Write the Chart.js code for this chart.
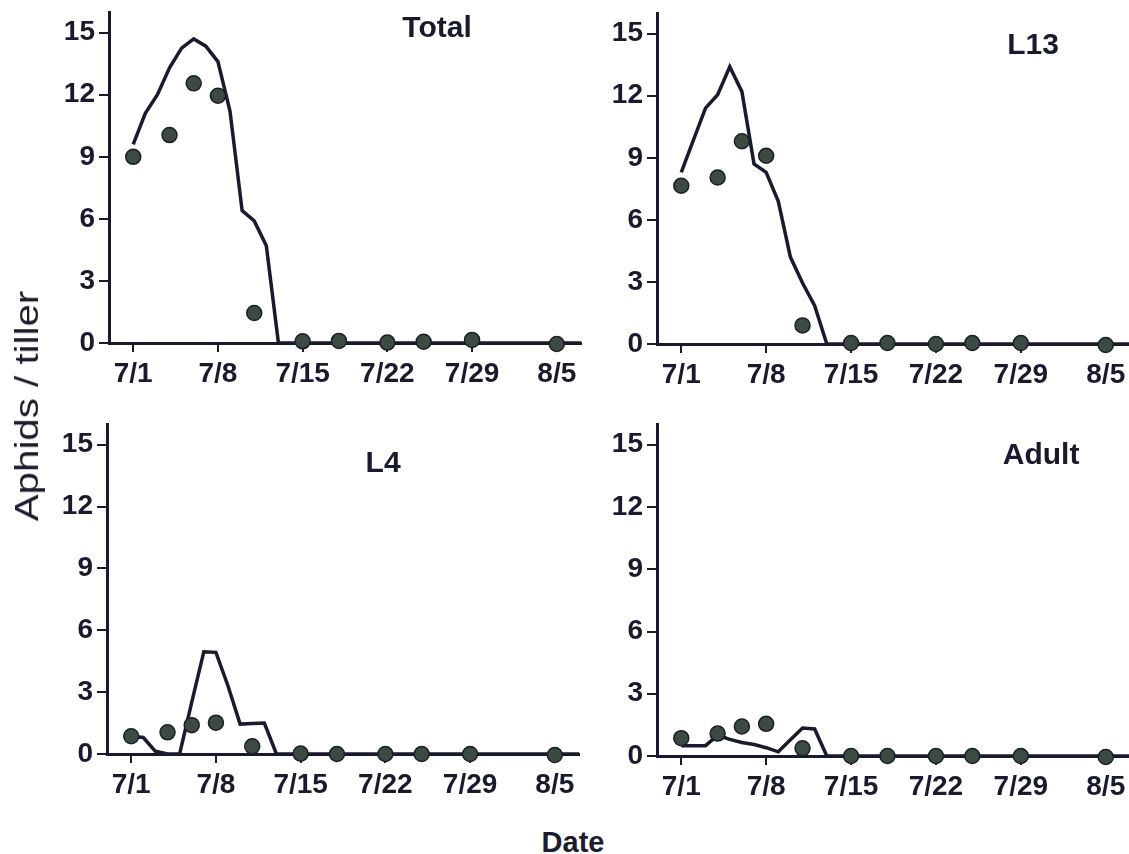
<!DOCTYPE html>
<html>
<head>
<meta charset="utf-8">
<title>Aphids per tiller</title>
<script src="https://cdn.jsdelivr.net/npm/chart.js@4.4.0/dist/chart.umd.min.js"></script>
<style>
    body { margin: 0; background: #fff; overflow: hidden; }
    #page { position: relative; width: 1129px; height: 854px; overflow: hidden; background: #fff; }
    .panel { position: absolute; }
    #ylabel {
        position: absolute; left: 27px; top: 406px;
        transform: translate(-50%, -50%) rotate(-90deg) scaleX(1.22);
        font: 33px "Liberation Sans", Arial, sans-serif;
        color: #1c1c2c; white-space: nowrap;
    }
    #xlabel {
        position: absolute; left: 573px; top: 842px;
        transform: translate(-50%, -50%);
        font: bold 29px "Liberation Sans", Arial, sans-serif;
        color: #1c1c2c;
    }
</style>
</head>
<body>
<div id="page">
    <canvas id="total" class="panel"></canvas>
    <canvas id="l13" class="panel"></canvas>
    <canvas id="l4" class="panel"></canvas>
    <canvas id="adult" class="panel"></canvas>
    <div id="ylabel">Aphids / tiller</div>
    <div id="xlabel">Date</div>
</div>
<script>
// days after 7/1
const sampleDays = [0, 3, 5, 7, 10, 14, 17, 21, 24, 28, 35];
const modelDays = [0, 1, 2, 3, 4, 5, 6, 7, 8, 9, 10, 11, 12, 37];
const tickDays = [0, 7, 14, 21, 28, 35];
const tickLabels = ["7/1", "7/8", "7/15", "7/22", "7/29", "8/5"];
const yTicks = [0, 3, 6, 9, 12, 15];

// field counts (dots)
const totalObserved = [9.0, 10.05, 12.55, 11.95, 1.45, 0.08, 0.1, 0.02, 0.06, 0.15, -0.05];
const l13Observed = [7.65, 8.05, 9.8, 9.1, 0.9, 0.05, 0.05, 0.0, 0.05, 0.05, -0.05];
const l4Observed = [0.86, 1.05, 1.4, 1.52, 0.37, 0.02, 0.0, 0.0, 0.0, 0.0, -0.05];
const adultObserved = [0.86, 1.08, 1.42, 1.55, 0.37, 0.0, 0.0, 0.0, 0.0, 0.0, -0.05];

// simulated counts (lines)
const totalModel = [9.6, 11.1, 12.0, 13.3, 14.25, 14.7, 14.35, 13.6, 11.2, 6.4, 5.9, 4.7, 0, 0];
const l13Model = [8.3, 9.85, 11.4, 12.05, 13.4, 12.2, 8.7, 8.3, 6.9, 4.2, 2.95, 1.85, 0, 0];
const l4Model = [0.86, 0.8, 0.13, 0, 0, 2.5, 4.96, 4.93, 3.3, 1.45, 1.48, 1.5, 0, 0];
const adultModel = [0.5, 0.5, 0.5, 1.0, 0.8, 0.65, 0.55, 0.4, 0.2, 0.78, 1.35, 1.3, 0, 0];

const ink = "#1a1a2e";
const dotFill = "#3c4a43";
const tickFont = { family: "'Liberation Sans', Arial, sans-serif", size: 28, weight: "bold" };

const panelTitle = {
    id: "panelTitle",
    afterDraw(chart, args, opts) {
        const { ctx, chartArea } = chart;
        ctx.save();
        ctx.font = "bold 30px 'Liberation Sans', Arial, sans-serif";
        ctx.fillStyle = ink;
        ctx.textAlign = "center";
        ctx.textBaseline = "middle";
        ctx.fillText(opts.text,
            chartArea.left + opts.x * chartArea.width,
            chartArea.top + opts.y * chartArea.height);
        ctx.restore();
    }
};

function toPoints(days, values) {
    return days.map((d, i) => ({ x: d, y: values[i] }));
}

function drawPanel(id, title, observed, model, box) {
    const canvas = document.getElementById(id);
    canvas.width = box.width;
    canvas.height = box.height;
    canvas.style.left = box.left + "px";
    canvas.style.top = box.top + "px";

    return new Chart(canvas.getContext("2d"), {
        data: {
            datasets: [
                {
                    type: "scatter",
                    data: toPoints(sampleDays, observed),
                    pointRadius: 7.5,
                    pointBackgroundColor: dotFill,
                    pointBorderColor: "#1b1f26",
                    pointBorderWidth: 1.5,
                    clip: false,
                    order: 0,
                },
                {
                    type: "line",
                    data: toPoints(modelDays, model),
                    borderColor: ink,
                    borderWidth: 3.5,
                    pointRadius: 0,
                    tension: 0,
                    fill: false,
                    clip: false,
                    order: 1,
                },
            ],
        },
        options: {
            responsive: false,
            animation: false,
            devicePixelRatio: 1,
            layout: { padding: { top: box.padTop, right: 0, left: 0, bottom: 0 } },
            plugins: {
                legend: { display: false },
                tooltip: { enabled: false },
                panelTitle: { text: title, x: box.titleX, y: box.titleY },
            },
            scales: {
                x: {
                    type: "linear",
                    min: -2,
                    max: 37,
                    afterBuildTicks: (s) => { s.ticks = tickDays.map((v) => ({ value: v })); },
                    afterFit: (s) => { s.height = 50; s.paddingLeft = 0; s.paddingRight = 0; },
                    ticks: {
                        callback: (v) => tickLabels[tickDays.indexOf(v)],
                        font: tickFont,
                        color: ink,
                        padding: 5,
                        maxRotation: 0,
                        autoSkip: false,
                    },
                    grid: { drawOnChartArea: false, tickLength: 9, lineWidth: 2, color: ink },
                    border: { color: ink, width: 3 },
                },
                y: {
                    min: 0,
                    max: 16,
                    afterBuildTicks: (s) => { s.ticks = yTicks.map((v) => ({ value: v })); },
                    afterFit: (s) => { s.width = 70; s.paddingTop = 0; s.paddingBottom = 0; },
                    ticks: { font: tickFont, color: ink, padding: 4 },
                    grid: { drawOnChartArea: false, tickLength: 10, lineWidth: 2, color: ink },
                    border: { color: ink, width: 3 },
                },
            },
        },
        plugins: [panelTitle],
    });
}

drawPanel("total", "Total", totalObserved, totalModel,
    { left: 39, top: 0, width: 551, height: 393, padTop: 12, titleX: 0.695, titleY: 0.05 });
drawPanel("l13", "L13", l13Observed, l13Model,
    { left: 587, top: 0, width: 552, height: 394, padTop: 13, titleX: 0.795, titleY: 0.10 });
drawPanel("l4", "L4", l4Observed, l4Model,
    { left: 37, top: 413, width: 551, height: 391, padTop: 11, titleX: 0.585, titleY: 0.12 });
drawPanel("adult", "Adult", adultObserved, adultModel,
    { left: 587, top: 413, width: 552, height: 393, padTop: 11, titleX: 0.812, titleY: 0.095 });
</script>
</body>
</html>
